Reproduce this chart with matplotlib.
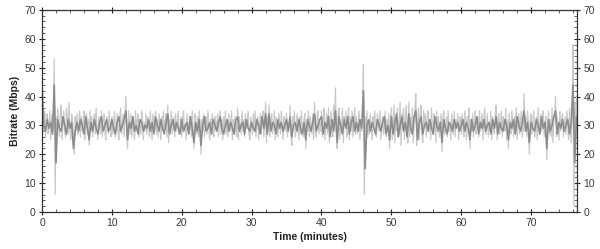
import matplotlib.pyplot as plt
import numpy as np
from matplotlib.ticker import MultipleLocator

plt.rcParams['font.family'] = ['Liberation Sans', 'DejaVu Sans']

# light trace: raw bitrate (Mbps), one reading every 0.125 min
light_step = 0.125
light_mbps = [
    50, 33, 28, 35, 26, 31, 34, 27, 29, 35, 25, 32, 34, 28, 53, 6, 33, 27, 36, 30,
    26, 34, 37, 25, 31, 35, 28, 26, 36, 33, 27, 38, 29, 25, 34, 31, 27, 20, 33, 28,
    34, 27, 30, 35, 26, 33, 28, 31, 35, 25, 29, 34, 27, 32, 23, 35, 28, 33, 26, 31,
    34, 27, 36, 29, 25, 33, 30, 27, 35, 26, 32, 34, 28, 25, 33, 31, 27, 35, 29, 26,
    33, 27, 31, 35, 26, 29, 34, 28, 25, 33, 36, 27, 30, 34, 26, 32, 40, 28, 22, 35,
    31, 27, 34, 26, 33, 29, 25, 35, 28, 32, 34, 26, 30, 27, 35, 33, 25, 31, 28, 34,
    27, 33, 30, 26, 35, 29, 25, 34, 31, 28, 35, 27, 32, 26, 34, 30, 25, 33, 28, 35,
    27, 31, 34, 26, 37, 24, 32, 29, 35, 27, 30, 33, 26, 34, 28, 31, 35, 27, 29, 33,
    26, 32, 35, 28, 30, 25, 34, 29, 27, 33, 31, 26, 35, 28, 22, 34, 30, 27, 33, 26,
    35, 29, 20, 32, 28, 34, 26, 31, 33, 27, 35, 29, 25, 32, 30, 34, 27, 26, 33, 31,
    28, 34, 26, 30, 35, 27, 32, 25, 33, 29, 35, 27, 31, 26, 34, 28, 30, 35, 25, 32,
    27, 33, 29, 26, 36, 25, 33, 30, 27, 35, 28, 32, 26, 34, 29, 31, 35, 27, 25, 33,
    30, 27, 34, 28, 35, 26, 31, 33, 25, 29, 34, 27, 32, 35, 26, 30, 38, 24, 33, 28,
    37, 26, 31, 34, 27, 30, 35, 25, 33, 28, 26, 34, 31, 27, 35, 29, 25, 33, 30, 28,
    34, 26, 31, 29, 37, 27, 23, 33, 30, 35, 26, 28, 34, 31, 25, 33, 27, 35, 29, 26,
    32, 34, 22, 31, 28, 35, 26, 33, 30, 27, 34, 25, 38, 29, 26, 33, 35, 27, 31, 28,
    35, 26, 32, 36, 25, 30, 34, 27, 36, 24, 31, 35, 28, 26, 37, 30, 43, 27, 22, 34,
    36, 25, 31, 28, 36, 24, 33, 30, 35, 26, 29, 36, 25, 33, 28, 35, 26, 31, 36, 27,
    33, 27, 30, 35, 25, 32, 28, 34, 51, 6, 33, 28, 35, 26, 31, 27, 34, 29, 25, 33,
    30, 35, 27, 26, 34, 31, 28, 35, 25, 30, 33, 27, 29, 35, 26, 32, 28, 34, 22, 31,
    36, 25, 31, 37, 24, 33, 28, 36, 26, 30, 38, 23, 34, 29, 36, 25, 32, 37, 27, 24,
    38, 26, 33, 29, 36, 24, 31, 35, 41, 23, 30, 36, 25, 33, 37, 27, 24, 35, 30, 34,
    26, 32, 35, 28, 30, 25, 36, 29, 27, 34, 31, 24, 35, 28, 33, 26, 30, 34, 21, 32,
    35, 27, 29, 33, 26, 35, 28, 31, 25, 34, 30, 27, 35, 26, 32, 29, 34, 25, 31, 33,
    27, 34, 29, 26, 35, 31, 25, 33, 30, 36, 22, 32, 28, 34, 26, 31, 35, 27, 29, 33,
    26, 35, 28, 30, 34, 25, 32, 36, 27, 30, 34, 26, 31, 28, 35, 25, 33, 29, 27, 34,
    37, 25, 31, 34, 27, 29, 35, 26, 33, 30, 28, 36, 25, 32, 22, 34, 29, 27, 35, 31,
    26, 33, 28, 36, 25, 30, 34, 27, 32, 35, 26, 29, 41, 28, 33, 26, 35, 30, 20, 32,
    34, 27, 31, 35, 26, 29, 33, 25, 36, 30, 27, 34, 28, 32, 35, 26, 31, 33, 18, 29,
    35, 27, 32, 26, 36, 24, 31, 34, 40, 26, 33, 29, 25, 35, 28, 31, 34, 26, 30, 33,
    27, 35, 30, 25, 36, 29, 24, 34, 58, 2, 38, 26, 40,
]

# dark trace: narrower spread, one reading every 0.25 min
dark_step = 0.25
dark_mbps = [
    44, 30, 28, 32, 29, 31, 27, 44, 17, 32, 29, 28, 33, 30, 27, 32, 29, 31, 22, 28,
    31, 28, 32, 30, 27, 33, 29, 25, 31, 28, 32, 29, 27, 31, 33, 28, 30, 32, 28, 29,
    32, 29, 27, 31, 33, 28, 30, 32, 35, 25, 31, 29, 33, 28, 30, 27, 32, 31, 28, 30,
    29, 32, 28, 31, 27, 33, 30, 28, 32, 29, 27, 31, 34, 27, 30, 32, 28, 31, 29, 27,
    32, 28, 30, 31, 27, 33, 29, 24, 31, 28, 32, 23, 30, 33, 28, 29, 31, 27, 32, 30,
    28, 31, 33, 29, 27, 30, 32, 28, 31, 29, 27, 32, 33, 28, 30, 31, 27, 32, 29, 28,
    31, 29, 28, 32, 30, 27, 33, 29, 34, 27, 34, 28, 31, 30, 27, 32, 29, 31, 28, 30,
    32, 28, 33, 26, 30, 31, 28, 32, 29, 27, 31, 25, 32, 30, 28, 31, 34, 28, 30, 32,
    33, 27, 31, 29, 33, 26, 32, 28, 35, 24, 33, 30, 27, 32, 29, 33, 27, 31, 33, 28,
    31, 28, 32, 29, 42, 15, 30, 32, 28, 31, 29, 27, 32, 30, 28, 31, 33, 27, 30, 25,
    33, 27, 31, 34, 26, 30, 33, 28, 31, 26, 34, 29, 27, 33, 35, 25, 31, 33, 27, 30,
    31, 28, 32, 29, 27, 33, 30, 28, 31, 24, 32, 29, 27, 31, 30, 28, 32, 29, 31, 28,
    30, 32, 28, 31, 29, 25, 32, 28, 30, 33, 27, 31, 29, 32, 28, 30, 31, 27, 32, 29,
    33, 27, 31, 29, 28, 32, 30, 25, 31, 29, 32, 27, 33, 30, 28, 31, 35, 28, 31, 24,
    31, 29, 28, 32, 30, 27, 33, 29, 31, 22, 32, 28, 30, 33, 35, 27, 31, 29, 32, 28,
    30, 32, 27, 31, 44, 17, 33,
]

x_label = 'Time (minutes)'
y_label = 'Bitrate (Mbps)'

t_light = np.arange(len(light_mbps)) * light_step
t_dark = np.arange(len(dark_mbps)) * dark_step

fig = plt.figure(figsize=(6.0, 2.49), dpi=100)
ax = fig.add_axes([0.07, 0.149, 0.892, 0.811])

ax.plot(t_light, light_mbps, color='#c8c8c8', lw=0.9)
ax.plot(t_dark, dark_mbps, color='#8c8c8c', lw=1.2)

ax.set_xlim(0, 76.6)
ax.set_ylim(0, 70)

# majors cross the axis line, minors point inward
ax.xaxis.set_major_locator(MultipleLocator(10))
ax.xaxis.set_minor_locator(MultipleLocator(2))
ax.yaxis.set_major_locator(MultipleLocator(10))
ax.yaxis.set_minor_locator(MultipleLocator(2))
ax.tick_params(which='major', direction='inout', length=5, width=0.8, color='#222222',
               labelsize=7.5, labelcolor='#3a3a3a', top=True, right=True,
               labelright=True, pad=2)
ax.tick_params(which='minor', direction='in', length=2.5, width=0.6, color='#444444',
               top=True, right=True)

for side in ['left', 'right', 'top', 'bottom']:
    ax.spines[side].set_color('#333333')
    ax.spines[side].set_linewidth(0.9)

ax.set_xlabel(x_label, fontsize=7.5, fontweight='bold', color='#222222', labelpad=3)
ax.set_ylabel(y_label, fontsize=7.5, fontweight='bold', color='#222222', labelpad=3)

fig.savefig('out.png', dpi=100)
